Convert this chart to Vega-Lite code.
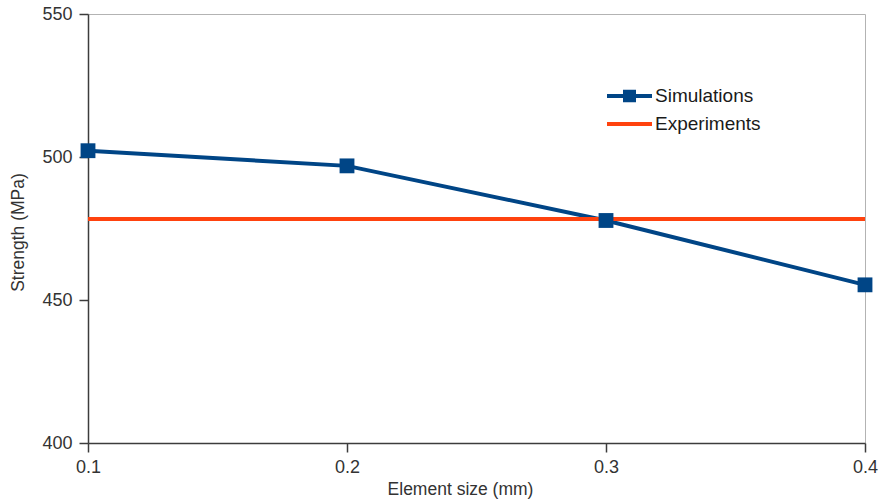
{
  "$schema": "https://vega.github.io/schema/vega-lite/v6.json",
  "autosize": "none",
  "width": 777,
  "height": 429,
  "padding": {"left": 88, "top": 14, "right": 17, "bottom": 57},
  "background": "white",
  "config": {
    "view": {"stroke": "#b3b3b3", "strokeWidth": 1},
    "font": "Liberation Sans",
    "axis": {
      "grid": false,
      "domainColor": "#3c3c3c",
      "domainWidth": 1.5,
      "tickColor": "#3c3c3c",
      "tickWidth": 1.5,
      "tickSize": 9,
      "labelFont": "Liberation Sans",
      "labelFontSize": 18,
      "labelColor": "#333333",
      "labelFlush": false,
      "titleFont": "Liberation Sans",
      "titleFontSize": 17.5,
      "titleFontWeight": "normal",
      "titleColor": "#333333"
    }
  },
  "data": {
    "values": [
      {"size": 0.1, "strength": 502.2, "series": "Simulations"},
      {"size": 0.2, "strength": 496.9, "series": "Simulations"},
      {"size": 0.3, "strength": 477.8, "series": "Simulations"},
      {"size": 0.4, "strength": 455.3, "series": "Simulations"},
      {"size": 0.1, "strength": 478.3, "series": "Experiments"},
      {"size": 0.4, "strength": 478.3, "series": "Experiments"}
    ]
  },
  "encoding": {
    "x": {
      "field": "size",
      "type": "quantitative",
      "scale": {"domain": [0.1, 0.4], "nice": false, "zero": false},
      "axis": {
        "title": "Element size (mm)",
        "values": [0.1, 0.2, 0.3, 0.4],
        "format": ".1f",
        "labelPadding": 6,
        "titleX": 372,
        "titleY": 46,
        "titleBaseline": "middle"
      }
    },
    "y": {
      "field": "strength",
      "type": "quantitative",
      "scale": {"domain": [400, 550], "nice": false, "zero": false},
      "axis": {
        "title": "Strength (MPa)",
        "values": [400, 450, 500, 550],
        "labelPadding": 7,
        "titleX": -70,
        "titleY": 218,
        "titleBaseline": "middle"
      }
    }
  },
  "layer": [
    {
      "mark": {"type": "line", "strokeWidth": 4},
      "encoding": {
        "color": {
          "field": "series",
          "type": "nominal",
          "scale": {"domain": ["Simulations", "Experiments"], "range": ["#004586", "#ff420e"]},
          "legend": {
            "orient": "none",
            "legendX": 517,
            "legendY": 71,
            "title": null,
            "labelFont": "Liberation Sans",
            "labelFontSize": 19,
            "labelColor": "#1a1a1a",
            "labelOffset": 1,
            "rowPadding": 6,
            "clipHeight": 22,
            "symbolSize": 2025,
            "symbolStrokeWidth": 4,
            "encode": {
              "symbols": {
                "update": {
                  "shape": {"signal": "datum.value === 'Simulations' ? 'M-1,0H1M-0.2,-0.19H0.2V0.19H-0.2Z' : 'M-1,0H1'"},
                  "fill": {"scale": "color", "field": "value"},
                  "fillOpacity": {"value": 1}
                }
              }
            }
          }
        }
      }
    },
    {
      "transform": [{"filter": "datum.series === 'Simulations'"}],
      "mark": {"type": "point", "shape": "square", "filled": true, "size": 220, "color": "#004586", "opacity": 1}
    }
  ]
}
